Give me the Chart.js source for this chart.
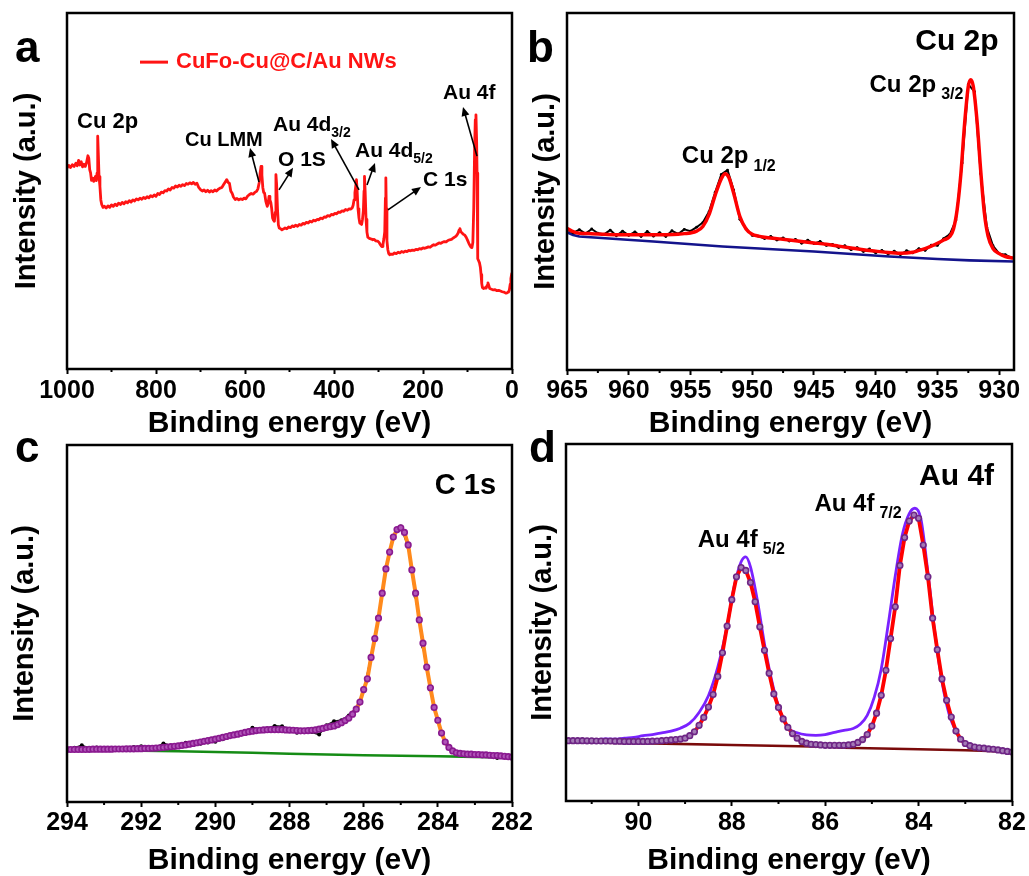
<!DOCTYPE html>
<html>
<head>
<meta charset="utf-8">
<title>XPS spectra of CuFo-Cu@C/Au NWs</title>
<script src="https://cdn.jsdelivr.net/npm/chart.js@4.4.1/dist/chart.umd.min.js"></script>
<style>
  html, body { margin: 0; padding: 0; background: #fff; overflow: hidden; }
  #figure { position: relative; width: 1029px; height: 876px; overflow: hidden; background: #fff; }
  #figure canvas { position: absolute; }
  .tag { position: absolute; font: bold 44px "Liberation Sans", Arial, sans-serif; line-height: 44px; color: #000; }
</style>
</head>
<body>
<div id="figure">
  <canvas id="surveyChart" width="540" height="442" style="left:0;top:0"></canvas>
  <canvas id="copperChart" width="514" height="442" style="left:515px;top:0"></canvas>
  <canvas id="carbonChart" width="540" height="449" style="left:0;top:430px"></canvas>
  <canvas id="goldChart" width="514" height="449" style="left:515px;top:430px"></canvas>
  <div class="tag" style="left:15px;top:25px">a</div>
  <div class="tag" style="left:527px;top:25px">b</div>
  <div class="tag" style="left:15px;top:425px">c</div>
  <div class="tag" style="left:529px;top:425px">d</div>
</div>
<script>
const FONT = '"Liberation Sans", Arial, Helvetica, sans-serif';

// ---- (a) survey spectrum, [binding energy eV, intensity a.u.]
const surveyTicks = [0, 200, 400, 600, 800, 1000];
const surveyMinor = [100, 300, 500, 700, 900];
const surveySpectrum = [
  [1000,56.5],[996,57.2],[992,56.6],[988,57.4],[984,56.9],[980,57.8],[977,57.1],[974,58.6],[971,57.3],[968,58.2],
  [965,56.8],[962,57.5],[959,56.9],[956,58.0],[953,59.9],[951,59.2],[949,56.0],[947,55.1],[945,53.0],[942,53.6],
  [940,52.7],[938,53.2],[936,54.1],[934,52.9],[932.5,55.0],[931,65.4],[929.5,60.0],[928,54.0],[926,51.3],[924,47.5],
  [922,46.2],[919,45.4],[916,45.7],[912,45.2],[908,45.8],[904,45.4],[900,46.1],[896,45.7],[892,46.3],[888,45.9],
  [884,46.6],[880,46.2],[876,46.8],[872,46.4],[868,47.0],[864,46.7],[860,47.3],[856,46.9],[852,47.5],[848,47.2],
  [844,47.8],[840,47.5],[836,48.0],[832,47.7],[828,48.2],[824,47.9],[820,48.4],[816,48.1],[812,48.7],[808,48.4],
  [804,48.9],[800,48.5],[796,49.3],[792,49.0],[788,49.7],[784,49.5],[780,50.1],[776,50.0],[772,50.6],[768,50.3],
  [764,51.0],[760,50.8],[756,51.4],[752,51.1],[748,51.6],[744,51.3],[740,51.8],[736,51.5],[732,52.1],[728,51.9],
  [724,52.3],[720,52.0],[716,52.4],[712,51.9],[708,52.2],[704,51.0],[700,50.4],[696,50.0],[692,50.3],[688,49.8],
  [684,50.2],[680,49.7],[676,50.1],[672,49.8],[668,50.3],[664,50.0],[660,50.5],[656,50.8],[652,51.0],[648,51.8],
  [644,52.6],[641,53.2],[638,52.4],[635,52.2],[632,50.0],[629,49.4],[626,48.3],[622,47.6],[618,47.9],[614,47.5],
  [610,47.8],[606,47.6],[602,48.0],[598,47.8],[594,48.6],[590,49.0],[586,49.3],[582,49.1],[578,49.6],[574,49.9],
  [571,50.6],[568,52.4],[566,55.0],[564,56.9],[562,54.5],[560,51.0],[558,49.6],[556,49.4],[553,47.0],[550,45.7],
  [548,46.5],[546,48.5],[544,47.5],[542,46.8],[540,45.0],[538,42.4],[536,41.8],[534,41.5],[532,44.0],[530.5,54.6],
  [529,52.0],[527,45.0],[525,40.5],[523,39.6],[520,39.4],[517,39.1],[514,39.3],[510,39.6],[506,39.4],[502,39.9],
  [498,39.7],[494,40.2],[490,40.0],[486,40.4],[482,40.1],[478,40.6],[474,40.4],[470,40.9],[466,40.7],[462,41.2],
  [458,41.0],[454,41.5],[450,41.3],[446,41.8],[442,41.6],[438,42.0],[434,41.9],[430,42.4],[426,42.2],[422,42.7],
  [418,42.6],[414,43.1],[410,42.9],[406,43.4],[402,43.3],[398,43.7],[394,43.6],[390,44.1],[386,44.0],[382,44.4],
  [378,44.3],[374,44.8],[370,44.6],[366,45.0],[362,44.9],[359,45.3],[357,46.0],[355,47.5],[353,49.5],[351,51.5],
  [349.5,53.2],[348,50.0],[346,45.0],[344,42.5],[342,41.0],[340,40.8],[338,40.6],[336,42.0],[334,44.5],[332.5,50.0],
  [331.5,54.1],[330,50.0],[328,42.0],[326,38.5],[324,37.0],[322,36.8],[319,36.6],[316,36.5],[313,36.3],[310,36.4],
  [306,36.0],[302,35.9],[299,35.6],[296,35.0],[294,34.6],[292,34.4],[290,35.0],[288,36.5],[286,38.5],[284.5,48.0],
  [283.5,53.7],[282.5,45.0],[281,36.0],[279,33.5],[277,32.4],[275,32.1],[272,32.3],[268,32.2],[264,32.6],[260,32.4],
  [256,32.8],[252,32.6],[248,33.0],[244,32.8],[240,33.1],[236,33.0],[232,33.3],[228,33.2],[224,33.4],[220,33.3],
  [216,33.6],[212,33.5],[208,33.8],[204,33.7],[200,34.0],[196,33.9],[192,34.1],[188,34.3],[184,34.2],[180,34.6],
  [176,34.9],[172,34.8],[168,35.1],[164,35.4],[160,35.3],[156,35.6],[152,35.8],[148,35.7],[144,36.1],[140,36.3],
  [136,36.4],[132,36.8],[128,37.1],[124,37.6],[121,38.2],[119,39.0],[117,39.4],[115,38.6],[113,38.3],[110,37.9],
  [106,37.6],[103,37.0],[100,36.2],[97,35.3],[94,34.6],[92,34.2],[90,34.1],[88,35.5],[86,45.0],[84,62.0],
  [82.5,70.0],[81,71.4],[79.5,64.0],[78.5,55.0],[77.5,40.0],[76.5,31.0],[75,30.4],[73,29.8],[71,28.5],[69.5,26.5],
  [68,24.0],[66.5,22.9],[64,22.6],[61,22.8],[58,22.7],[56,23.5],[54,24.2],[52,23.4],[50,22.6],[46,22.4],
  [42,22.2],[38,22.3],[34,22.0],[30,22.1],[26,21.9],[22,21.7],[18,21.6],[14,21.3],[11,21.4],[8,21.6],
  [6,22.2],[4,23.8],[2.5,25.4],[1,26.5],[0,27.0]
];

// ---- (b) Cu 2p
const copperTicks = [930, 935, 940, 945, 950, 955, 960, 965];
const copperMinor = [932.5, 937.5, 942.5, 947.5, 952.5, 957.5, 962.5];
const copperRaw = [
  [965,39.4],[964.5,38.4],[964,39.3],[963.5,38.2],[963,39.5],[962.5,38.3],[962,38.0],[961.5,39.2],[961,37.6],[960.5,38.9],
  [960,37.7],[959.5,38.7],[959,37.4],[958.5,38.8],[958,37.5],[957.5,38.5],[957,37.4],[956.5,39.0],[956,38.1],[955.5,39.4],
  [955,38.9],[954.5,40.0],[954,41.3],[953.5,44.3],[953,49.8],[952.5,54.8],[952,56.0],[951.5,50.4],[951,42.2],[950.5,39.6],
  [950,37.7],[949.5,37.5],[949,36.8],[948.5,37.4],[948,36.4],[947.5,37.0],[947,36.1],[946.5,36.6],[946,35.5],[945.5,36.4],
  [945,35.4],[944.5,36.0],[944,34.9],[943.5,35.2],[943,34.3],[942.5,34.8],[942,33.7],[941.5,34.3],[941,33.2],[940.5,33.9],
  [940,32.8],[939.5,33.5],[939,32.5],[938.5,33.3],[938,32.3],[937.5,33.4],[937,32.8],[936.5,34.0],[936,33.5],[935.5,35.0],
  [935,34.9],[934.5,36.8],[934,38.0],[933.5,42.0],[933,58.0],[932.5,80.0],[932,78.0],[931.5,55.0],[931,40.0],[930.5,34.8],
  [930,32.6],[929.5,32.3],[929,31.4]
];
const copperFit = [
  [965,39.7],[964.6,38.9],[964,38.3],[963,38.2],[962,38.0],[961,37.9],[960,37.9],[959,37.9],[958,37.9],[957,37.9],
  [956,38.0],[955.5,38.2],[955,38.4],[954.5,38.9],[954,40.2],[953.5,43.5],[953,49.0],[952.5,53.6],[952.2,55.0],[951.9,54.0],
  [951.5,49.5],[951,43.0],[950.5,39.5],[950,38.0],[949.5,37.5],[949,37.2],[948,36.8],[947,36.4],[946,36.0],[945,35.6],
  [944,35.2],[943,34.7],[942,34.2],[941,33.7],[940,33.3],[939,32.9],[938,32.7],[937,33.0],[936.5,33.5],[936,34.0],
  [935.5,34.7],[935,35.5],[934.5,36.4],[934,37.4],[933.7,39.5],[933.4,45.0],[933.1,55.0],[932.8,69.0],[932.5,79.5],[932.3,81.3],
  [932.1,79.5],[931.8,70.0],[931.5,56.0],[931.2,44.0],[930.9,37.5],[930.5,34.0],[930,32.6],[929.5,31.8],[928.8,31.3]
];
const copperBackground = [
  [965,38.6],[964.5,37.8],[964,37.4],[958,36.0],[952.4,34.6],[945,33.2],[938.9,31.8],[935,31.1],[932.4,30.7],[928.8,30.4]
];

// ---- (c) C 1s
const carbonTicks = [282, 284, 286, 288, 290, 292, 294];
const carbonMinor = [283, 285, 287, 289, 291, 293];
const carbonRaw = [
  [294,14.9],[293.8,15.2],[293.6,15.9],[293.4,15.0],[293.2,15.3],[293,14.9],[292.8,14.7],[292.6,15.0],[292.4,14.8],[292.2,15.4],
  [292,15.6],[291.8,15.1],[291.6,15.3],[291.4,16.4],[291.2,15.8],[291,15.6],[290.8,16.6],[290.6,16.1],[290.4,16.3],[290.2,16.7],
  [290,16.9],[289.8,17.6],[289.6,18.4],[289.4,19.2],[289.2,19.6],[289,20.8],[288.8,20.4],[288.6,20.6],[288.4,21.3],[288.2,21.2],
  [288,20.3],[287.8,19.4],[287.6,19.8],[287.4,19.6],[287.2,18.9],[287,21.5],[286.8,22.6],[286.6,22.9],[286.4,24.2],[286.2,26.4],
  [286,31.0],[285.8,40.8],[285.6,51.5],[285.4,65.5],[285.2,74.5],[285,77.2],[284.8,71.5],[284.6,57.5],[284.4,43.5],[284.2,31.5],
  [284,22.5],[283.8,16.9],[283.6,14.5],[283.4,13.8],[283.2,13.5],[283,13.2],[282.8,13.4],[282.6,13.1],[282.4,12.3],[282.2,12.8],
  [282,12.7]
];
const carbonEnvelope = [
  [294,14.7],[293.9,14.7],[293.8,14.7],[293.7,14.7],[293.6,14.7],[293.5,14.7],[293.4,14.75],[293.3,14.8],[293.2,14.8],[293.1,14.8],
  [293,14.8],[292.9,14.8],[292.8,14.8],[292.7,14.85],[292.6,14.85],[292.5,14.85],[292.4,14.9],[292.3,14.9],[292.2,14.9],[292.1,14.95],
  [292,14.95],[291.9,15.0],[291.8,15.0],[291.7,15.05],[291.6,15.1],[291.5,15.2],[291.4,15.3],[291.3,15.4],[291.2,15.5],[291.1,15.6],
  [291,15.7],[290.9,15.85],[290.8,16.0],[290.7,16.2],[290.6,16.4],[290.5,16.6],[290.4,16.8],[290.3,17.0],[290.2,17.2],[290.1,17.4],
  [290,17.6],[289.9,17.85],[289.8,18.1],[289.7,18.35],[289.6,18.6],[289.5,18.8],[289.4,19.0],[289.3,19.25],[289.2,19.5],[289.1,19.7],
  [289,19.85],[288.9,20.0],[288.8,20.1],[288.7,20.2],[288.6,20.25],[288.5,20.3],[288.4,20.3],[288.3,20.3],[288.2,20.25],[288.1,20.2],
  [288,20.15],[287.9,20.1],[287.8,20.0],[287.7,19.95],[287.6,19.95],[287.5,20.0],[287.4,20.1],[287.3,20.2],[287.2,20.4],[287.1,20.6],
  [287,20.9],[286.9,21.1],[286.8,21.3],[286.7,21.7],[286.6,22.2],[286.5,22.8],[286.4,23.5],[286.3,24.6],[286.2,26.0],[286.1,28.0],
  [286,31.5],[285.9,34.5],[285.8,40.5],[285.7,45.8],[285.6,51.5],[285.5,58.5],[285.4,65.3],[285.3,70.0],[285.2,74.2],[285.1,76.3],
  [285,76.8],[284.9,75.5],[284.8,72.0],[284.7,65.0],[284.6,58.5],[284.5,51.0],[284.4,44.5],[284.3,37.8],[284.2,32.0],[284.1,26.5],
  [284,22.9],[283.9,19.3],[283.8,16.8],[283.7,15.3],[283.6,14.3],[283.5,13.8],[283.4,13.6],[283.3,13.5],[283.2,13.4],[283.1,13.4],
  [283,13.3],[282.9,13.3],[282.8,13.2],[282.7,13.2],[282.6,13.1],[282.5,13.0],[282.4,13.0],[282.3,12.9],[282.2,12.8],[282.1,12.7],
  [282,12.6]
];
const carbonBackground = [
  [294,14.7],[293,14.6],[292,14.4],[291,14.2],[290,14.0],[289,13.8],[288,13.5],[287,13.3],[286,13.1],[285,12.95],[284,12.8],[283,12.65],[282,12.5]
];

// ---- (d) Au 4f
const goldTicks = [82, 84, 86, 88, 90];
const goldMinor = [83, 85, 87, 89, 91];
const goldRaw = [
  [91.5,17.0],[91.3,17.1],[91.1,17.0],[90.9,17.2],[90.7,17.4],[90.5,17.3],[90.3,17.6],[90.1,17.8],[89.9,18.3],[89.7,18.6],
  [89.5,19.1],[89.3,19.6],[89.1,20.4],[88.9,21.8],[88.7,24.8],[88.5,29.5],[88.3,37.5],[88.1,49.0],[87.95,60.0],[87.8,67.0],
  [87.7,68.4],[87.6,65.6],[87.45,56.0],[87.3,44.0],[87.15,34.0],[87,26.5],[86.8,20.6],[86.6,19.1],[86.4,18.5],[86.2,18.4],
  [86,18.6],[85.8,19.2],[85.6,19.8],[85.4,20.3],[85.25,21.5],[85.1,24.0],[84.95,29.0],[84.8,37.0],[84.65,49.5],[84.5,63.0],
  [84.35,74.5],[84.2,80.5],[84.08,82.0],[83.95,79.0],[83.8,64.0],[83.65,47.0],[83.5,33.5],[83.35,24.5],[83.2,19.5],[83.05,16.8],
  [82.9,15.6],[82.6,14.7],[82.3,14.2],[82,13.7]
];
const goldEnvelope = [
  [91.5,16.9],[91.4,16.9],[91.3,16.9],[91.2,16.9],[91.1,16.85],[91,16.85],[90.9,16.8],[90.8,16.8],[90.7,16.8],[90.6,16.8],
  [90.5,16.75],[90.4,16.75],[90.3,16.7],[90.2,16.7],[90.1,16.7],[90,16.7],[89.9,16.7],[89.8,16.7],[89.7,16.75],[89.6,16.8],
  [89.5,16.9],[89.4,17.0],[89.3,17.1],[89.2,17.2],[89.1,17.35],[89,17.6],[88.9,18.3],[88.8,19.4],[88.7,21.2],[88.6,23.4],
  [88.5,26.3],[88.4,29.8],[88.3,34.9],[88.2,41.5],[88.1,49.0],[88,56.4],[87.9,62.8],[87.8,65.4],[87.7,64.6],[87.6,61.2],
  [87.5,55.8],[87.4,48.8],[87.3,42.2],[87.2,35.8],[87.1,30.0],[87,26.2],[86.9,23.0],[86.8,20.6],[86.7,18.9],[86.6,17.6],
  [86.5,16.7],[86.4,16.2],[86.3,15.9],[86.2,15.8],[86.1,15.7],[86,15.6],[85.9,15.6],[85.8,15.6],[85.7,15.6],[85.6,15.6],
  [85.5,15.7],[85.4,15.9],[85.3,16.4],[85.2,17.2],[85.1,18.6],[85,21.0],[84.9,24.6],[84.8,29.6],[84.7,36.6],[84.6,45.5],
  [84.5,54.4],[84.4,66.0],[84.3,73.8],[84.2,78.4],[84.1,80.1],[84,79.2],[83.9,71.7],[83.8,62.8],[83.7,51.2],[83.6,42.4],
  [83.5,34.2],[83.4,28.2],[83.3,23.5],[83.2,19.6],[83.1,17.3],[83,16.1],[82.9,15.5],[82.8,15.1],[82.7,14.9],[82.6,14.8],
  [82.5,14.6],[82.4,14.5],[82.3,14.3],[82.2,14.1],[82.1,13.9],[82,13.7]
];
const goldBackground = [
  [91.55,16.5],[90,16.2],[88,15.7],[86,15.2],[85.6,14.9],[84,14.5],[83,14.2],[82.5,14.0],[82,13.7]
];

const toXY = pairs => pairs.map(([x, y]) => ({ x, y }));

function lineSet(pairs, color, width, extra) {
  return Object.assign({
    data: toXY(pairs),
    borderColor: color,
    borderWidth: width,
    pointRadius: 0,
    fill: false,
    tension: 0,
    borderJoinStyle: 'round'
  }, extra || {});
}

function markerSet(pairs, stroke, fillColor) {
  return {
    data: toXY(pairs),
    showLine: false,
    pointRadius: 2.8,
    pointBorderWidth: 1.6,
    pointBorderColor: stroke,
    pointBackgroundColor: fillColor
  };
}

function drawArrow(ctx, x1, y1, x2, y2) {
  const ang = Math.atan2(y2 - y1, x2 - x1);
  const len = 9, half = 4;
  ctx.lineWidth = 1.6;
  ctx.beginPath();
  ctx.moveTo(x1, y1);
  ctx.lineTo(x2 - len * 0.7 * Math.cos(ang), y2 - len * 0.7 * Math.sin(ang));
  ctx.stroke();
  ctx.beginPath();
  ctx.moveTo(x2, y2);
  ctx.lineTo(x2 - len * Math.cos(ang) + half * Math.sin(ang), y2 - len * Math.sin(ang) - half * Math.cos(ang));
  ctx.lineTo(x2 - len * Math.cos(ang) - half * Math.sin(ang), y2 - len * Math.sin(ang) + half * Math.cos(ang));
  ctx.closePath();
  ctx.fill();
}

// frame, minor ticks, arrows and peak labels
const framePlugin = {
  id: 'frame',
  afterDatasetsDraw(chart, args, opts) {
    const { ctx, chartArea: area, scales: { x, y } } = chart;
    const px = v => x.getPixelForValue(v);
    const py = v => y.getPixelForValue(v);
    ctx.save();
    ctx.strokeStyle = '#000';
    ctx.fillStyle = '#000';
    ctx.lineWidth = 2;
    ctx.beginPath();
    (opts.minorTicks || []).forEach(v => {
      ctx.moveTo(px(v), area.bottom);
      ctx.lineTo(px(v), area.bottom + 3);
    });
    ctx.stroke();
    ctx.lineWidth = 2.5;
    ctx.strokeRect(area.left, area.top, area.right - area.left, area.bottom - area.top);

    (opts.swatches || []).forEach(s => {
      ctx.strokeStyle = s.color;
      ctx.lineWidth = 3;
      ctx.beginPath();
      ctx.moveTo(px(s.from[0]), py(s.from[1]));
      ctx.lineTo(px(s.to[0]), py(s.to[1]));
      ctx.stroke();
    });
    ctx.strokeStyle = '#000';
    (opts.arrows || []).forEach(a => drawArrow(ctx, px(a.from[0]), py(a.from[1]), px(a.to[0]), py(a.to[1])));

    ctx.textBaseline = 'alphabetic';
    ctx.textAlign = 'left';
    (opts.notes || []).forEach(n => {
      const nx = px(n.x), ny = py(n.y);
      ctx.fillStyle = n.color || '#000';
      ctx.font = `bold ${n.size}px ${FONT}`;
      ctx.fillText(n.text, nx, ny);
      if (n.sub) {
        const w = ctx.measureText(n.text).width;
        ctx.font = `bold ${n.subSize}px ${FONT}`;
        ctx.fillText(n.sub, nx + w + n.gap, ny + n.drop);
      }
    });
    ctx.restore();
  }
};

function buildPanel(id, p) {
  return new Chart(document.getElementById(id), {
    type: 'line',
    data: { datasets: p.datasets },
    options: {
      responsive: false,
      animation: false,
      devicePixelRatio: 1,
      events: [],
      layout: { padding: p.padding },
      plugins: {
        legend: { display: false },
        tooltip: { enabled: false },
        frame: p.frame
      },
      scales: {
        x: {
          type: 'linear',
          reverse: true,
          min: p.xMin,
          max: p.xMax,
          afterBuildTicks: s => { s.ticks = p.ticks.map(v => ({ value: v })); },
          afterFit: s => { s.height = p.xAxisHeight; },
          border: { display: false },
          grid: { drawOnChartArea: false, drawTicks: true, tickLength: 5, tickWidth: 2, tickColor: '#000' },
          ticks: {
            color: '#000',
            padding: p.tickPad,
            maxRotation: 0,
            autoSkip: false,
            font: { family: FONT, size: 25, weight: 'bold' },
            callback: v => String(v)
          },
          title: {
            display: true,
            text: 'Binding energy (eV)',
            color: '#000',
            padding: { top: 0, bottom: 0 },
            font: { family: FONT, size: 30, weight: 'bold' }
          }
        },
        y: {
          min: 0,
          max: 100,
          afterFit: s => { s.width = p.yAxisWidth; },
          border: { display: false },
          grid: { display: false },
          ticks: { display: false },
          title: {
            display: true,
            text: 'Intensity (a.u.)',
            color: '#000',
            padding: { top: p.yTitlePad, bottom: 0 },
            font: { family: FONT, size: 29, weight: 'bold' }
          }
        }
      }
    },
    plugins: [framePlugin]
  });
}

// (a) survey
buildPanel('surveyChart', {
  xMin: 0, xMax: 1000, ticks: surveyTicks,
  padding: { left: 0, top: 13, right: 28, bottom: 0 },
  xAxisHeight: 73, tickPad: 2, yAxisWidth: 67, yTitlePad: 10,
  datasets: [lineSet(surveySpectrum, '#ff1414', 2.8)],
  frame: {
    minorTicks: surveyMinor,
    swatches: [{ from: [836, 86.2], to: [773, 86.2], color: '#ff1414' }],
    arrows: [
      { from: [568.5, 52.5], to: [588.8, 62.1] },
      { from: [523.6, 50.3], to: [492.1, 56.5] },
      { from: [343.8, 50.3], to: [406.7, 64.6] },
      { from: [325.8, 51.7], to: [307.9, 57.9] },
      { from: [278.7, 44.7], to: [204.5, 51.1] },
      { from: [78.7, 59.8], to: [110.1, 73.6] }
    ],
    notes: [
      { x: 755, y: 84.5, text: 'CuFo-Cu@C/Au NWs', size: 22, color: '#ff1414' },
      { x: 977.5, y: 67.7, text: 'Cu 2p', size: 22 },
      { x: 734.8, y: 62.6, text: 'Cu LMM', size: 20 },
      { x: 537.1, y: 66.9, text: 'Au 4d', size: 21, sub: '3/2', subSize: 14, gap: 0, drop: 6 },
      { x: 525.8, y: 57.0, text: 'O 1S', size: 21 },
      { x: 352.8, y: 59.6, text: 'Au 4d', size: 21, sub: '5/2', subSize: 14, gap: 0, drop: 6 },
      { x: 200, y: 51.4, text: 'C 1s', size: 21 },
      { x: 155.1, y: 75.8, text: 'Au 4f', size: 21 }
    ]
  }
});

// (b) Cu 2p
buildPanel('copperChart', {
  xMin: 928.8, xMax: 965, ticks: copperTicks,
  padding: { left: 0, top: 13, right: 15, bottom: 0 },
  xAxisHeight: 72, tickPad: 1, yAxisWidth: 52, yTitlePad: 14,
  datasets: [
    lineSet(copperFit, '#ff0000', 3.5, { cubicInterpolationMode: 'monotone' }),
    lineSet(copperRaw, '#000000', 2, { pointRadius: 1.4, pointBackgroundColor: '#000', pointBorderWidth: 0 }),
    lineSet(copperBackground, '#14148c', 2.6)
  ],
  frame: {
    minorTicks: copperMinor,
    notes: [
      { x: 936.8, y: 89.6, text: 'Cu 2p', size: 30 },
      { x: 940.5, y: 77.9, text: 'Cu 2p', size: 24, sub: '3/2', subSize: 16, gap: 5, drop: 7 },
      { x: 955.7, y: 58.0, text: 'Cu 2p', size: 24, sub: '1/2', subSize: 16, gap: 5, drop: 8 }
    ]
  }
});

// (c) C 1s
buildPanel('carbonChart', {
  xMin: 282, xMax: 294, ticks: carbonTicks,
  padding: { left: 0, top: 15, right: 28, bottom: 0 },
  xAxisHeight: 77, tickPad: 1, yAxisWidth: 67, yTitlePad: 8,
  datasets: [
    markerSet(carbonEnvelope, '#8a1a90', '#b055b8'),
    lineSet(carbonEnvelope, '#ff8a1c', 4),
    lineSet(carbonRaw, '#1a1a1a', 1.8, { pointRadius: 2, pointBackgroundColor: '#000', pointBorderWidth: 0 }),
    lineSet(carbonBackground, '#158c15', 2.6)
  ],
  frame: {
    minorTicks: carbonMinor,
    notes: [{ x: 284.08, y: 86.3, text: 'C 1s', size: 29 }]
  }
});

// (d) Au 4f
buildPanel('goldChart', {
  xMin: 82, xMax: 91.55, ticks: goldTicks,
  padding: { left: 0, top: 14, right: 17, bottom: 0 },
  xAxisHeight: 78, tickPad: 2, yAxisWidth: 51, yTitlePad: 11,
  datasets: [
    markerSet(goldEnvelope, '#6e2585', '#a47ab6'),
    lineSet(goldEnvelope, '#ff0000', 3.8),
    lineSet(goldRaw, '#7a22ff', 2.8, { cubicInterpolationMode: 'monotone' }),
    lineSet(goldBackground, '#7a0a0a', 2.6)
  ],
  frame: {
    minorTicks: goldMinor,
    notes: [
      { x: 83.99, y: 88.5, text: 'Au 4f', size: 30 },
      { x: 86.23, y: 81.2, text: 'Au 4f', size: 24, sub: '7/2', subSize: 16, gap: 5, drop: 7 },
      { x: 88.73, y: 71.1, text: 'Au 4f', size: 24, sub: '5/2', subSize: 16, gap: 5, drop: 7 }
    ]
  }
});
</script>
</body>
</html>
